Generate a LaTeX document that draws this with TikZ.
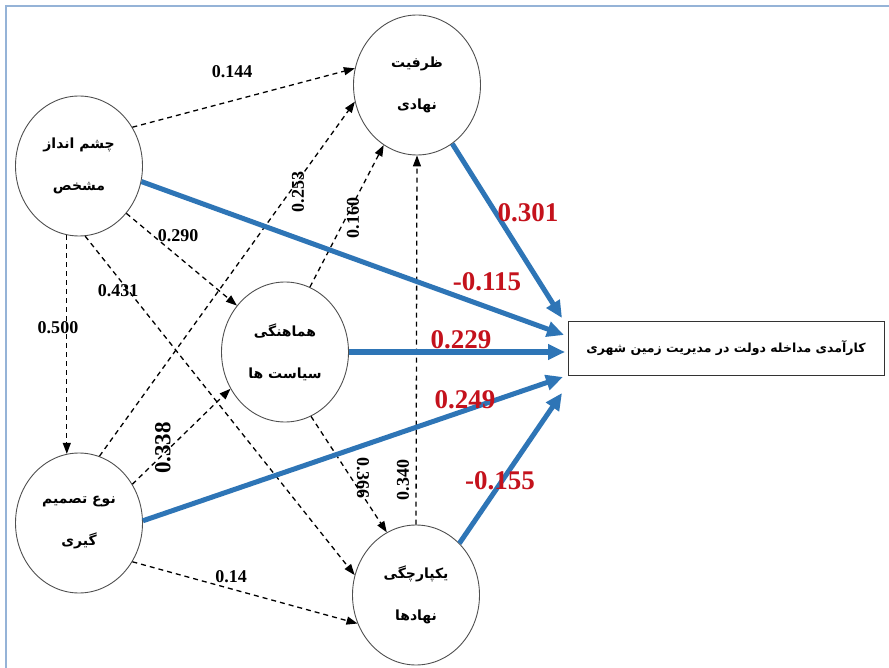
\documentclass[tikz,border=0pt]{standalone}
\usepackage{fontspec}
\setmainfont{Liberation Serif}
\newfontfamily\fa[Script=Arabic]{DejaVu Sans}
\TeXXeTstate=1
\usetikzlibrary{shapes.geometric,arrows.meta}
\definecolor{pathblue}{RGB}{46,117,182}
\definecolor{coefred}{RGB}{196,18,28}
\definecolor{framblue}{RGB}{149,179,215}
\definecolor{circgray}{RGB}{80,80,80}
\tikzset{
  latent/.style={ellipse,draw=circgray,line width=0.9pt,minimum width=127pt,minimum height=140pt,inner sep=0pt,align=center,font=\fa\bfseries\fontsize{14}{17}\selectfont},
  outbox/.style={rectangle,draw=black!80,line width=1pt,minimum width=316pt,minimum height=53pt,inner sep=2pt,font=\fa\bfseries\fontsize{12.5}{15}\selectfont},
  dasharrow/.style={draw=black,line width=1.3pt,dash pattern=on 5pt off 4pt,-{Triangle[length=11pt,width=8pt]}},
  bluearrow/.style={draw=pathblue,line width=5pt,-{Triangle[length=17pt,width=15pt]}},
  blabel/.style={font=\bfseries\fontsize{18}{20}\selectfont,inner sep=1pt},
  rlabel/.style={font=\bfseries\fontsize{27}{30}\selectfont,text=coefred,inner sep=1pt},
  frameline/.style={draw=framblue,line width=2pt}
}
\begin{document}
\begin{tikzpicture}[x=1pt,y=-1pt]
\useasboundingbox (0,0) rectangle (889,668);
\fill[white] (0,0) rectangle (889,668);
% page frame
\coordinate (f1) at (6,668);
\coordinate (f2) at (6,6);
\coordinate (f3) at (889,6);
\draw[frameline] (f1) -- (f2) -- (f3);
% latent variables
\node[latent] (A) at (79,166) {\beginR چشم انداز\endR\\[25pt]\beginR مشخص\endR};
\node[latent] (B) at (417,85) {\beginR ظرفیت\endR\\[25pt]\beginR نهادی\endR};
\node[latent] (C) at (285,352) {\beginR هماهنگی\endR\\[25pt]\beginR سیاست ها\endR};
\node[latent] (D) at (79,523) {\beginR نوع تصمیم\endR\\[25pt]\beginR گیری\endR};
\node[latent] (E) at (416,595) {\beginR یکپارچگی\endR\\[25pt]\beginR نهادها\endR};
\node[outbox] (Y) at (726,348.5) {\beginR کارآمدی مداخله دولت در مدیریت زمین شهری\endR};
% arrow tips at the outcome box
\coordinate (t1) at (562,318);
\coordinate (t2) at (564,335);
\coordinate (t3) at (565,352);
\coordinate (t4) at (563,377);
\coordinate (t5) at (562,393);
% dashed paths
\draw[dasharrow] (A.36) -- (B.165);
\draw[dasharrow] (D.73) -- (B.195);
\draw[dasharrow] (C.69) -- (B.241);
\draw[dasharrow] (E.90) -- (B.270);
\draw[dasharrow] (A.260) -- (D.100);
\draw[dasharrow] (A.315) -- (C.136);
\draw[dasharrow] (A.275) -- (E.162);
\draw[dasharrow] (C.292) -- (E.115);
\draw[dasharrow] (D.36) -- (C.214);
\draw[dasharrow] (D.324) -- (E.206);
% blue paths
\draw[bluearrow] (B.301) -- (t1);
\draw[bluearrow] (A.346) -- (t2);
\draw[bluearrow] (C.0) -- (t3);
\draw[bluearrow] (D.2) -- (t4);
\draw[bluearrow] (E.50) -- (t5);
% black coefficients
\node[blabel] (l144) at (232,72) {0.144};
\node[blabel,rotate=90] (l253) at (298,192) {0.253};
\node[blabel,rotate=90] (l160) at (353,218) {0.160};
\node[blabel,rotate=90] (l340) at (403,480) {0.340};
\node[blabel] (l500) at (58,328) {0.500};
\node[blabel] (l290) at (178,236) {0.290};
\node[blabel] (l431) at (118,291) {0.431};
\node[blabel,rotate=-90] (l366) at (363,478) {0.366};
\node[blabel,rotate=90,font=\bfseries\fontsize{23}{26}\selectfont] (l338) at (163,448) {0.338};
\node[blabel] (l14) at (231,577) {0.14};
% red coefficients
\node[rlabel] (r301) at (528,213) {0.301};
\node[rlabel] (r115) at (487,282) {-0.115};
\node[rlabel] (r229) at (461,340) {0.229};
\node[rlabel] (r249) at (465,400) {0.249};
\node[rlabel] (r155) at (500,481) {-0.155};
\end{tikzpicture}
\end{document}
